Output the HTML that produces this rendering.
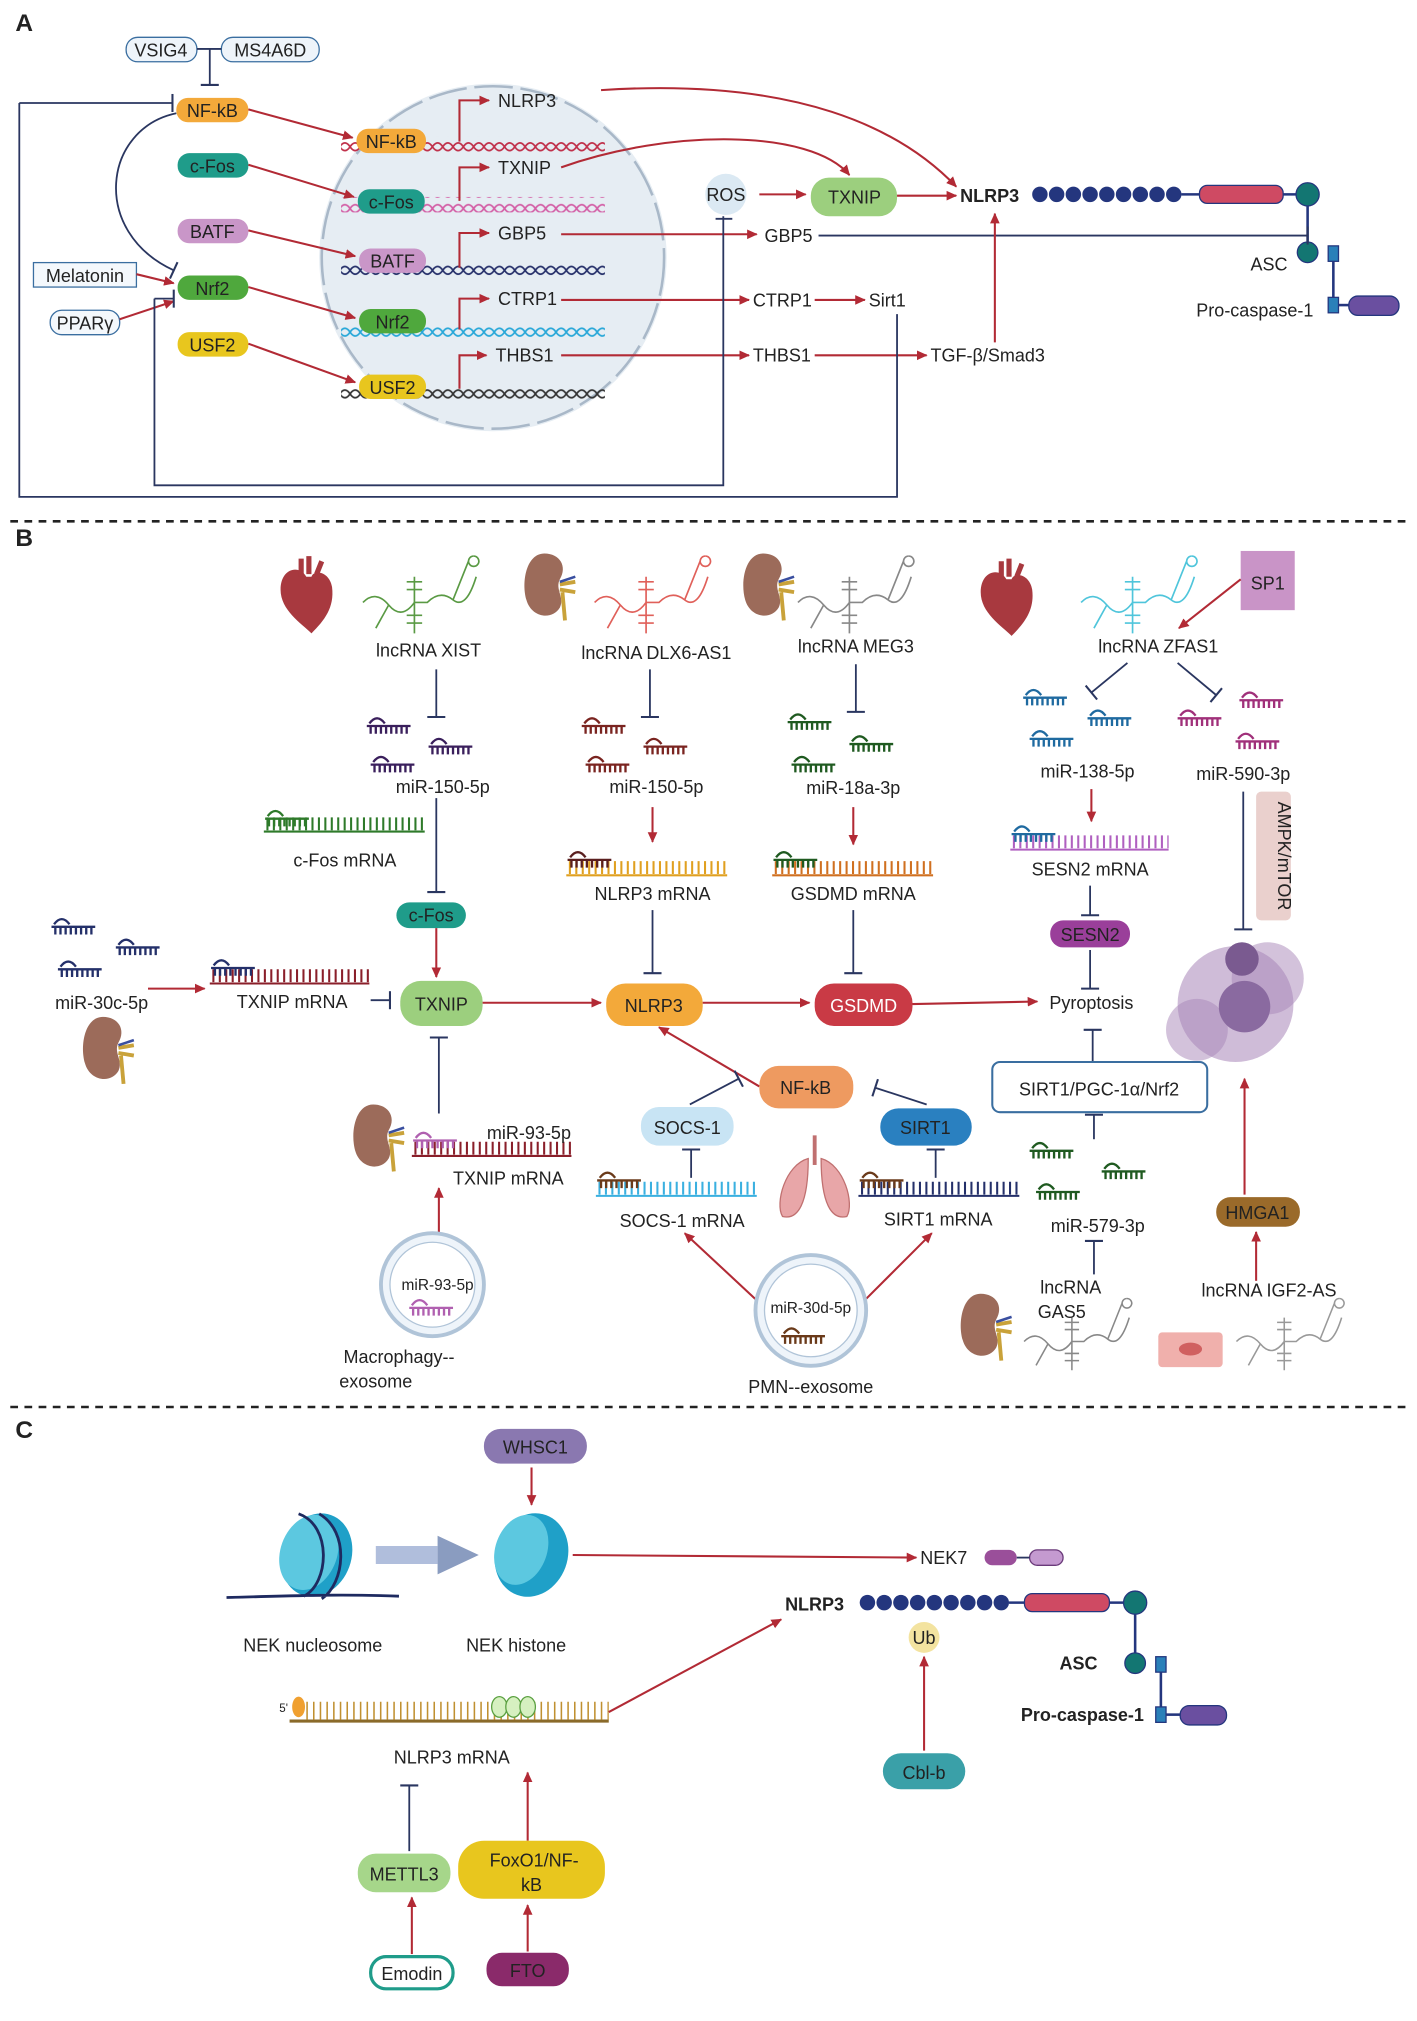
<!DOCTYPE html>
<html><head><meta charset="utf-8"><style>
html,body{margin:0;padding:0;background:#fff}
svg{display:block}
text{font-family:"Liberation Sans",sans-serif;font-size:14px;fill:#222}
.c{text-anchor:middle}
.b{font-weight:bold}
.ar{stroke:#b22a35;stroke-width:1.6;fill:none;marker-end:url(#ah)}
.in{stroke:#2a3660;stroke-width:1.4;fill:none;marker-end:url(#tb)}
.ln{stroke:#2a3660;stroke-width:1.4;fill:none}
</style></head><body>
<svg width="1417" height="2021" viewBox="0 0 1101 1570" preserveAspectRatio="none" xmlns="http://www.w3.org/2000/svg">
<defs>
<marker id="ah" viewBox="-10 -6 12 12" markerWidth="9" markerHeight="9" refX="0" refY="0" orient="auto" markerUnits="userSpaceOnUse"><path d="M-10,-5 L1,0 L-10,5z" fill="#b22a35"/></marker>
<marker id="tb" viewBox="-2 -8 4 16" markerWidth="4" markerHeight="16" refX="0" refY="0" orient="auto" markerUnits="userSpaceOnUse"><path d="M0,-7 L0,7" stroke="#2a3660" stroke-width="1.6"/></marker>
<symbol id="mir" viewBox="0 0 34 16" overflow="visible"><path d="M2,6 Q8,-2 14,6 M0,8 H34 M3,8V14 M7,8V14 M11,8V14 M15,8V14 M19,8V14 M23,8V14 M27,8V14 M31,8V14" fill="none" stroke-width="1.8"/></symbol>
<symbol id="rna" viewBox="0 0 90 70" overflow="visible"><path d="M0,40 Q10,30 20,42 T40,40 H50 Q60,30 70,38 T88,20 M40,40 V20 M34,24 H46 M34,30H46 M40,40 V64 M34,50H46 M34,56H46 M20,42 L10,60 M70,38 L82,8 M86,4a4,4 0 1 0 0.1,0" fill="none" stroke-width="1.3"/></symbol>
<pattern id="d1" width="16" height="12" patternUnits="userSpaceOnUse"><path d="M0,6 Q4,0 8,6 T16,6 M0,6 Q4,12 8,6 T16,6" fill="none" stroke="#c0304a" stroke-width="1.3"/></pattern>
<pattern id="d2" width="16" height="12" patternUnits="userSpaceOnUse"><path d="M0,6 Q4,0 8,6 T16,6 M0,6 Q4,12 8,6 T16,6" fill="none" stroke="#d35fa6" stroke-width="1.3"/></pattern>
<pattern id="d3" width="16" height="12" patternUnits="userSpaceOnUse"><path d="M0,6 Q4,0 8,6 T16,6 M0,6 Q4,12 8,6 T16,6" fill="none" stroke="#26306a" stroke-width="1.3"/></pattern>
<pattern id="d4" width="16" height="12" patternUnits="userSpaceOnUse"><path d="M0,6 Q4,0 8,6 T16,6 M0,6 Q4,12 8,6 T16,6" fill="none" stroke="#27a7d8" stroke-width="1.3"/></pattern>
<pattern id="d5" width="16" height="12" patternUnits="userSpaceOnUse"><path d="M0,6 Q4,0 8,6 T16,6 M0,6 Q4,12 8,6 T16,6" fill="none" stroke="#333" stroke-width="1.3"/></pattern>
<g id="kid"><path d="M0,0 C-14,0 -18,22 -14,36 C-10,50 6,52 12,42 C16,34 8,28 12,20 C18,10 12,0 0,0z" fill="#9c6b5a"/><path d="M12,24 L24,22 M12,28 L24,30 M14,30 L16,52" stroke="#c9a23a" stroke-width="3"/><path d="M12,22 L24,18" stroke="#3a4fa0" stroke-width="2"/></g>
<g id="heart"><path d="M0,10 C-6,0 -20,4 -20,20 C-20,36 -4,46 4,54 C14,44 22,34 20,18 C18,6 6,4 4,10z" fill="#a8393f"/><path d="M-4,10 V-4 M2,8 V-6 M8,8 L12,-2" stroke="#a8393f" stroke-width="4"/></g>
</defs>

<!-- ===== A ===== -->
<text x="12" y="24" class="b" style="font-size:19px">A</text>
<circle cx="383" cy="200" r="135" fill="#e6edf3"/>
<circle cx="383" cy="200" r="133" fill="none" stroke="#a9b8c8" stroke-width="2" stroke-dasharray="30 6"/>
<rect x="265" y="106" width="205" height="12" fill="url(#d1)"/>
<rect x="265" y="153" width="205" height="12" fill="url(#d2)"/>
<rect x="265" y="206" width="205" height="12" fill="url(#d3)"/>
<rect x="265" y="254" width="205" height="12" fill="url(#d4)"/>
<rect x="265" y="300" width="205" height="12" fill="url(#d5)"/>
<g fill="none" stroke="#b22a35" stroke-width="1.6">
<path d="M357,110 V78 H380" marker-end="url(#ah)"/><path d="M357,156 V130 H380" marker-end="url(#ah)"/><path d="M357,208 V181 H380" marker-end="url(#ah)"/><path d="M357,256 V232 H380" marker-end="url(#ah)"/><path d="M357,302 V276 H378" marker-end="url(#ah)"/>
</g>
<text x="387" y="83">NLRP3</text><text x="387" y="135">TXNIP</text><text x="387" y="186">GBP5</text><text x="387" y="237">CTRP1</text><text x="385" y="281">THBS1</text>
<rect x="98" y="29" width="55" height="19" rx="9" fill="#eef4fa" stroke="#3a6ea0"/><text x="125" y="44" class="c">VSIG4</text>
<rect x="172" y="29" width="76" height="19" rx="9" fill="#eef4fa" stroke="#3a6ea0"/><text x="210" y="44" class="c">MS4A6D</text>
<path class="ln" d="M153,38 H172"/><path class="in" d="M163,38 V66"/>
<rect x="137" y="76" width="56" height="19" rx="9" fill="#f3a93a"/><text x="165" y="91" class="c">NF-kB</text>
<rect x="138" y="119" width="55" height="19" rx="9" fill="#1f9c8a"/><text x="165" y="134" class="c">c-Fos</text>
<rect x="138" y="170" width="55" height="19" rx="9" fill="#c996c8"/><text x="165" y="185" class="c">BATF</text>
<rect x="138" y="214" width="55" height="19" rx="9" fill="#4fa83d"/><text x="165" y="229" class="c">Nrf2</text>
<rect x="138" y="258" width="55" height="19" rx="9" fill="#e8c61e"/><text x="165" y="273" class="c">USF2</text>
<rect x="26" y="204" width="80" height="19" fill="#f4f8fc" stroke="#3a6ea0"/><text x="66" y="219" class="c">Melatonin</text>
<rect x="39" y="241" width="54" height="19" rx="9" fill="#f4f8fc" stroke="#3a6ea0"/><text x="66" y="256" class="c">PPARγ</text>
<rect x="277" y="100" width="54" height="19" rx="9" fill="#f3a93a"/><text x="304" y="115" class="c">NF-kB</text>
<rect x="278" y="147" width="52" height="19" rx="9" fill="#1f9c8a"/><text x="304" y="162" class="c">c-Fos</text>
<rect x="279" y="193" width="52" height="19" rx="9" fill="#c996c8"/><text x="305" y="208" class="c">BATF</text>
<rect x="279" y="240" width="52" height="19" rx="9" fill="#4fa83d"/><text x="305" y="255" class="c">Nrf2</text>
<rect x="279" y="291" width="52" height="19" rx="9" fill="#e8c61e"/><text x="305" y="306" class="c">USF2</text>
<path class="ar" d="M193,85 L274,107"/><path class="ar" d="M193,128 L275,153"/><path class="ar" d="M193,179 L276,199"/><path class="ar" d="M193,223 L276,247"/><path class="ar" d="M193,267 L276,297"/>
<path class="ar" d="M106,213 L135,220"/><path class="ar" d="M93,248 L135,234"/>
<path class="in" d="M137,88 C80,100 70,180 135,210"/>
<path class="ar" d="M467,70 C620,60 700,100 743,145"/>
<path class="ar" d="M436,130 C520,100 630,100 660,136"/>
<circle cx="564" cy="151" r="16" fill="#dbe9f3"/><text x="564" y="156" class="c">ROS</text>
<path class="ar" d="M590,151 H626"/>
<rect x="630" y="138" width="67" height="30" rx="14" fill="#9ccf7e"/><text x="664" y="158" class="c">TXNIP</text>
<path class="ar" d="M697,152 H743"/>
<text x="746" y="157" class="b">NLRP3</text>
<g fill="#24367e"><circle cx="808" cy="151" r="6"/><circle cx="821" cy="151" r="6"/><circle cx="834" cy="151" r="6"/><circle cx="847" cy="151" r="6"/><circle cx="860" cy="151" r="6"/><circle cx="873" cy="151" r="6"/><circle cx="886" cy="151" r="6"/><circle cx="899" cy="151" r="6"/><circle cx="912" cy="151" r="6"/></g>
<path d="M918,151 H1016" stroke="#24367e" stroke-width="2"/>
<rect x="932" y="144" width="65" height="14" rx="6" fill="#cf4a63" stroke="#24367e"/>
<circle cx="1016" cy="151" r="9" fill="#137672" stroke="#24367e"/>
<path d="M1016,160 V188" stroke="#24367e" stroke-width="2"/>
<circle cx="1016" cy="196" r="8" fill="#137672" stroke="#24367e"/>
<rect x="1032" y="191" width="8" height="12" fill="#2a80b9" stroke="#24367e"/>
<path d="M1036,203 V231" stroke="#24367e" stroke-width="2"/>
<rect x="1032" y="231" width="8" height="12" fill="#2a80b9" stroke="#24367e"/>
<rect x="1048" y="230" width="39" height="15" rx="7" fill="#6a4fa0" stroke="#24367e"/>
<path d="M1040,237 H1048" stroke="#24367e" stroke-width="2"/>
<text x="986" y="210" class="c">ASC</text><text x="975" y="246" class="c">Pro-caspase-1</text>
<path class="ar" d="M436,182 H588"/><text x="594" y="188">GBP5</text>
<path class="in" d="M636,183 H1016"/>
<path class="ar" d="M436,233 H582"/><text x="585" y="238">CTRP1</text>
<path class="ar" d="M633,233 H672"/><text x="675" y="238">Sirt1</text>
<path class="ar" d="M436,276 H582"/><text x="585" y="281">THBS1</text>
<path class="ar" d="M633,276 H720"/><text x="723" y="281">TGF-β/Smad3</text>
<path class="ar" d="M773,266 V166"/>
<path class="ln" d="M562,168 V377 H120 V232"/><path class="in" d="M120,232 H135"/>
<path class="ln" d="M569,170 H556"/>
<path class="ln" d="M697,244 V386 H15 V80"/><path class="in" d="M15,80 H134"/>
<path d="M8,405 H1096" stroke="#222" stroke-width="2" stroke-dasharray="6 5"/>

<!-- ===== B ===== -->
<text x="12" y="424" class="b" style="font-size:19px">B</text>
<use href="#heart" x="238" y="438"/><use href="#heart" x="782" y="440"/>
<use href="#kid" x="423" y="430"/><use href="#kid" x="593" y="430"/><use href="#kid" x="80" y="790"/><use href="#kid" x="290" y="858"/><use href="#kid" x="762" y="1005"/>
<use href="#rna" x="282" y="428" width="90" height="70" stroke="#5a9a44"/>
<use href="#rna" x="462" y="428" width="90" height="70" stroke="#e0605a"/>
<use href="#rna" x="620" y="428" width="90" height="70" stroke="#888"/>
<use href="#rna" x="840" y="428" width="90" height="70" stroke="#4fc5db"/>
<use href="#rna" x="795" y="1005" width="85" height="65" stroke="#888"/>
<use href="#rna" x="960" y="1005" width="85" height="65" stroke="#999"/>
<text x="333" y="510" class="c">lncRNA XIST</text>
<text x="510" y="512" class="c">lncRNA DLX6-AS1</text>
<text x="665" y="507" class="c">lncRNA MEG3</text>
<text x="900" y="507" class="c">lncRNA ZFAS1</text>
<rect x="964" y="428" width="42" height="46" fill="#c994c7"/><text x="985" y="458" class="c">SP1</text>
<path class="ar" d="M964,450 L916,488"/>
<path class="in" d="M339,520 V557"/><path class="in" d="M505,520 V557"/><path class="in" d="M665,516 V553"/>
<path class="in" d="M876,515 L848,538"/><path class="in" d="M915,515 L945,540"/>
<g stroke="#3a1f5c"><use href="#mir" x="285" y="556" width="34" height="16"/><use href="#mir" x="333" y="572" width="34" height="16"/><use href="#mir" x="288" y="586" width="34" height="16"/></g>
<g stroke="#7a2420"><use href="#mir" x="452" y="556" width="34" height="16"/><use href="#mir" x="500" y="572" width="34" height="16"/><use href="#mir" x="455" y="586" width="34" height="16"/></g>
<g stroke="#1f5a20"><use href="#mir" x="612" y="553" width="34" height="16"/><use href="#mir" x="660" y="570" width="34" height="16"/><use href="#mir" x="615" y="586" width="34" height="16"/></g>
<g stroke="#1f6aa0"><use href="#mir" x="795" y="534" width="34" height="16"/><use href="#mir" x="845" y="550" width="34" height="16"/><use href="#mir" x="800" y="566" width="34" height="16"/></g>
<g stroke="#a0307a"><use href="#mir" x="963" y="536" width="34" height="16"/><use href="#mir" x="915" y="550" width="34" height="16"/><use href="#mir" x="960" y="568" width="34" height="16"/></g>
<text x="344" y="616" class="c">miR-150-5p</text><text x="510" y="616" class="c">miR-150-5p</text><text x="663" y="617" class="c">miR-18a-3p</text>
<text x="845" y="604" class="c">miR-138-5p</text><text x="966" y="606" class="c">miR-590-3p</text>
<!-- mRNAs -->
<g fill="none" stroke-width="1.6">
<g stroke="#2e7a2a"><path d="M205,646 H330"/><path d="M207,640 H330" stroke-width="10" stroke-dasharray="1.6 3.4"/><use href="#mir" x="205" y="628" width="36" height="16"/></g>
<g stroke="#e0a020"><path d="M440,680 H565"/><path d="M442,674 H565" stroke-width="10" stroke-dasharray="1.6 3.4"/></g><use href="#mir" x="440" y="660" width="36" height="16" stroke="#5a1f1f"/>
<g stroke="#d07020"><path d="M600,680 H725"/><path d="M602,674 H725" stroke-width="10" stroke-dasharray="1.6 3.4"/></g><use href="#mir" x="600" y="660" width="36" height="16" stroke="#1f5a20"/>
<g stroke="#b060c0"><path d="M785,660 H908"/><path d="M787,654 H908" stroke-width="10" stroke-dasharray="1.6 3.4"/></g><use href="#mir" x="785" y="640" width="36" height="16" stroke="#1f6aa0"/>
<g stroke="#8a1f2a"><path d="M163,764 H287"/><path d="M165,758 H287" stroke-width="10" stroke-dasharray="1.6 3.4"/></g><use href="#mir" x="163" y="744" width="36" height="16" stroke="#24306a"/>
<g stroke="#8a1f2a"><path d="M320,898 H444"/><path d="M322,892 H444" stroke-width="10" stroke-dasharray="1.6 3.4"/></g><use href="#mir" x="320" y="878" width="36" height="16" stroke="#b060b0"/>
<g stroke="#3ab0e0"><path d="M463,929 H588"/><path d="M465,923 H588" stroke-width="10" stroke-dasharray="1.6 3.4"/></g><use href="#mir" x="463" y="909" width="36" height="16" stroke="#6a3a1a"/>
<g stroke="#24306a"><path d="M667,929 H792"/><path d="M669,923 H792" stroke-width="10" stroke-dasharray="1.6 3.4"/></g><use href="#mir" x="667" y="909" width="36" height="16" stroke="#6a3a1a"/>
</g>
<text x="268" y="673" class="c">c-Fos mRNA</text><text x="507" y="699" class="c">NLRP3 mRNA</text><text x="663" y="699" class="c">GSDMD mRNA</text><text x="847" y="680" class="c">SESN2  mRNA</text>
<text x="227" y="783" class="c">TXNIP mRNA</text>
<text x="411" y="885" class="c">miR-93-5p</text><text x="395" y="920" class="c">TXNIP mRNA</text>
<text x="530" y="953" class="c">SOCS-1 mRNA</text><text x="729" y="952" class="c">SIRT1 mRNA</text>
<path class="in" d="M339,620 V693"/>
<rect x="308" y="701" width="54" height="20" rx="10" fill="#1f9c8a"/><text x="335" y="716" class="c">c-Fos</text>
<path class="ar" d="M339,721 V759"/>
<path class="ar" d="M507,627 V654"/><path class="ar" d="M663,627 V656"/><path class="ar" d="M848,613 V638"/>
<path class="in" d="M507,707 V756"/><path class="in" d="M663,707 V756"/>
<path class="in" d="M847,688 V711"/>
<rect x="816" y="715" width="62" height="21" rx="10" fill="#9a3f9a"/><text x="847" y="731" class="c">SESN2</text>
<path class="in" d="M847,738 V768"/>
<rect x="976" y="615" width="27" height="100" rx="4" fill="#ead0cd"/><text x="989" y="665" class="c" transform="rotate(90 989 665)" dy="-4">AMPK/mTOR</text>
<path class="in" d="M966,615 V722"/>
<g fill="#a885b8"><circle cx="960" cy="780" r="45" opacity="0.55"/><circle cx="985" cy="760" r="28" opacity="0.5"/><circle cx="930" cy="800" r="24" opacity="0.5"/><circle cx="965" cy="745" r="13" fill="#7a5a90"/><circle cx="967" cy="782" r="20" fill="#8a6aa0"/></g>
<g stroke="#24306a"><use href="#mir" x="40" y="712" width="34" height="16"/><use href="#mir" x="90" y="728" width="34" height="16"/><use href="#mir" x="45" y="745" width="34" height="16"/></g>
<text x="79" y="784" class="c">miR-30c-5p</text>
<path class="ar" d="M115,768 H159"/>
<path class="in" d="M288,777 H303"/>
<rect x="311" y="762" width="64" height="35" rx="16" fill="#9ccf7e"/><text x="343" y="785" class="c">TXNIP</text>
<path class="ar" d="M375,779 H467"/>
<rect x="471" y="764" width="75" height="33" rx="15" fill="#f3a93a"/><text x="508" y="786" class="c">NLRP3</text>
<path class="ar" d="M546,779 H629"/>
<rect x="633" y="764" width="76" height="33" rx="15" fill="#c93a45"/><text x="671" y="786" class="c" style="fill:#fff">GSDMD</text>
<path class="ar" d="M709,780 L806,778"/>
<text x="848" y="784" class="c">Pyroptosis</text>
<path class="in" d="M849,825 V800"/>
<rect x="771" y="825" width="167" height="39" rx="6" fill="#fff" stroke="#3a6ea0" stroke-width="1.6"/><text x="854" y="851" class="c">SIRT1/PGC-1α/Nrf2</text>
<path class="in" d="M850,885 V866"/>
<g stroke="#1f5a20"><use href="#mir" x="800" y="886" width="34" height="16"/><use href="#mir" x="856" y="902" width="34" height="16"/><use href="#mir" x="805" y="918" width="34" height="16"/></g>
<text x="853" y="957" class="c">miR-579-3p</text>
<path class="in" d="M850,990 V964"/>
<text x="832" y="1005" class="c">lncRNA</text><text x="825" y="1024" class="c">GAS5</text>
<path class="ar" d="M967,928 V838"/>
<rect x="945" y="930" width="65" height="23" rx="11" fill="#9a6a2a"/><text x="977" y="947" class="c">HMGA1</text>
<path class="ar" d="M976,995 V957"/><text x="986" y="1007" class="c">lncRNA IGF2-AS</text>
<rect x="900" y="1035" width="50" height="27" rx="3" fill="#f0b0ac"/><ellipse cx="925" cy="1048" rx="9" ry="5" fill="#d06060"/>
<path class="in" d="M341,865 V806"/>
<path class="ar" d="M341,960 V923"/>
<circle cx="336" cy="998" r="40" fill="#eef4fa" stroke="#b0c4d8" stroke-width="3"/><circle cx="336" cy="998" r="33" fill="#fff" stroke="#b0c4d8"/>
<text x="340" y="1002" class="c" style="font-size:12px">miR-93-5p</text><use href="#mir" x="318" y="1008" width="34" height="16" stroke="#b060b0"/>
<text x="310" y="1059" class="c">Macrophagy--</text><text x="292" y="1078" class="c">exosome</text>
<path class="ar" d="M590,844 L512,798"/>
<rect x="590" y="828" width="73" height="33" rx="15" fill="#ee9a60"/><text x="626" y="850" class="c">NF-kB</text>
<path class="in" d="M536,858 L574,838"/>
<rect x="498" y="860" width="72" height="30" rx="14" fill="#c8e4f4"/><text x="534" y="881" class="c">SOCS-1</text>
<path class="in" d="M537,915 V893"/>
<path class="in" d="M720,858 L680,845"/>
<rect x="684" y="861" width="71" height="29" rx="14" fill="#2a80c0"/><text x="719" y="881" class="c">SIRT1</text>
<path class="in" d="M727,915 V893"/>
<g fill="#e8a6a8" stroke="#c07070"><path d="M628,900 C610,905 602,935 608,945 C620,948 628,935 628,900z"/><path d="M638,900 C656,905 664,935 658,945 C646,948 638,935 638,900z"/></g><path d="M633,882 V905" stroke="#c07070" stroke-width="3"/>
<path class="ar" d="M590,1012 L532,958"/><path class="ar" d="M670,1012 L724,958"/>
<circle cx="630" cy="1018" r="43" fill="#eef4fa" stroke="#b0c4d8" stroke-width="3"/><circle cx="630" cy="1018" r="36" fill="#fff" stroke="#b0c4d8"/>
<text x="630" y="1020" class="c" style="font-size:12px">miR-30d-5p</text><use href="#mir" x="607" y="1030" width="34" height="16" stroke="#6a3a1a"/>
<text x="630" y="1082" class="c">PMN--exosome</text>
<path d="M8,1093 H1096" stroke="#222" stroke-width="2" stroke-dasharray="6 5"/>

<!-- ===== C ===== -->
<text x="12" y="1117" class="b" style="font-size:19px">C</text>
<rect x="376" y="1110" width="80" height="27" rx="13" fill="#8a78b0"/><text x="416" y="1129" class="c">WHSC1</text>
<path class="ar" d="M413,1140 V1169"/>
<g><ellipse cx="246" cy="1208" rx="27" ry="33" fill="#1fa0c8" transform="rotate(20 246 1208)"/><ellipse cx="240" cy="1206" rx="22" ry="30" fill="#5cc8e0" transform="rotate(20 240 1206)"/>
<path d="M232,1176 C258,1185 256,1230 236,1240 M248,1176 C272,1190 268,1230 250,1242 M176,1241 C220,1240 260,1238 310,1240" fill="none" stroke="#1e2a60" stroke-width="2.2"/></g>
<path d="M290,1208 H340 V1193 L372,1208 L340,1223 V1208" fill="#8a9cc0"/>
<path d="M292,1201 H340 V1215 H292z" fill="#b0bedc"/>
<ellipse cx="413" cy="1208" rx="28" ry="33" fill="#1fa0c8" transform="rotate(20 413 1208)"/><ellipse cx="405" cy="1204" rx="20" ry="28" fill="#5cc8e0" transform="rotate(20 405 1204)"/>
<text x="243" y="1283" class="c">NEK nucleosome</text><text x="401" y="1283" class="c">NEK histone</text>
<path class="ar" d="M445,1208 L712,1210"/><text x="715" y="1215">NEK7</text>
<rect x="765" y="1204" width="25" height="12" rx="6" fill="#9a4f9a"/><rect x="800" y="1204" width="26" height="12" rx="6" fill="#c49ad0" stroke="#6a3a7a"/><path class="ln" d="M790,1210 H800"/>
<text x="610" y="1251" class="b">NLRP3</text>
<g fill="#24367e"><circle cx="674" cy="1245" r="6"/><circle cx="687" cy="1245" r="6"/><circle cx="700" cy="1245" r="6"/><circle cx="713" cy="1245" r="6"/><circle cx="726" cy="1245" r="6"/><circle cx="739" cy="1245" r="6"/><circle cx="752" cy="1245" r="6"/><circle cx="765" cy="1245" r="6"/><circle cx="778" cy="1245" r="6"/></g>
<path d="M784,1245 H882" stroke="#24367e" stroke-width="2"/>
<rect x="796" y="1238" width="66" height="14" rx="6" fill="#cf4a63" stroke="#24367e"/>
<circle cx="882" cy="1245" r="9" fill="#137672" stroke="#24367e"/>
<path d="M882,1254 V1284" stroke="#24367e" stroke-width="2"/>
<circle cx="882" cy="1292" r="8" fill="#137672" stroke="#24367e"/>
<rect x="898" y="1287" width="8" height="12" fill="#2a80b9" stroke="#24367e"/>
<path d="M902,1299 V1326" stroke="#24367e" stroke-width="2"/>
<rect x="898" y="1326" width="8" height="12" fill="#2a80b9" stroke="#24367e"/>
<rect x="917" y="1325" width="36" height="15" rx="7" fill="#6a4fa0" stroke="#24367e"/><path d="M906,1332 H917" stroke="#24367e" stroke-width="2"/>
<text x="838" y="1297" class="c b">ASC</text><text x="841" y="1337" class="c b">Pro-caspase-1</text>
<circle cx="718" cy="1272" r="12" fill="#f3e3a0"/><text x="718" y="1277" class="c">Ub</text>
<path class="ar" d="M718,1360 V1287"/>
<rect x="686" y="1362" width="64" height="28" rx="14" fill="#3aa0a8"/><text x="718" y="1382" class="c">Cbl-b</text>
<g fill="none"><path d="M225,1337 H473" stroke="#8a6a2a" stroke-width="2.5"/><path d="M238,1329 H473" stroke="#c09030" stroke-width="14" stroke-dasharray="1.2 4"/></g>
<ellipse cx="232" cy="1326" rx="5" ry="8" fill="#f0a030"/><text x="217" y="1330" style="font-size:9px">5'</text>
<g fill="#d6f0c0" stroke="#5aa040"><ellipse cx="388" cy="1326" rx="6" ry="8"/><ellipse cx="399" cy="1326" rx="6" ry="8"/><ellipse cx="410" cy="1326" rx="6" ry="8"/></g>
<text x="351" y="1370" class="c">NLRP3 mRNA</text>
<path class="ar" d="M473,1330 L607,1258"/>
<path class="in" d="M318,1438 V1387"/>
<rect x="278" y="1440" width="72" height="30" rx="14" fill="#a6d68a"/><text x="314" y="1461" class="c">METTL3</text>
<path class="ar" d="M320,1518 V1474"/>
<rect x="288" y="1520" width="64" height="25" rx="12" fill="#fff" stroke="#1f9c8a" stroke-width="2.5"/><text x="320" y="1538" class="c">Emodin</text>
<path class="ar" d="M410,1430 V1377"/>
<rect x="356" y="1430" width="114" height="45" rx="20" fill="#e8c61e"/><text x="415" y="1450" class="c">FoxO1/NF-</text><text x="413" y="1469" class="c">kB</text>
<path class="ar" d="M410,1516 V1480"/>
<rect x="378" y="1517" width="64" height="26" rx="12" fill="#8a2a6a"/><text x="410" y="1536" class="c">FTO</text>
</svg>
</body></html>
